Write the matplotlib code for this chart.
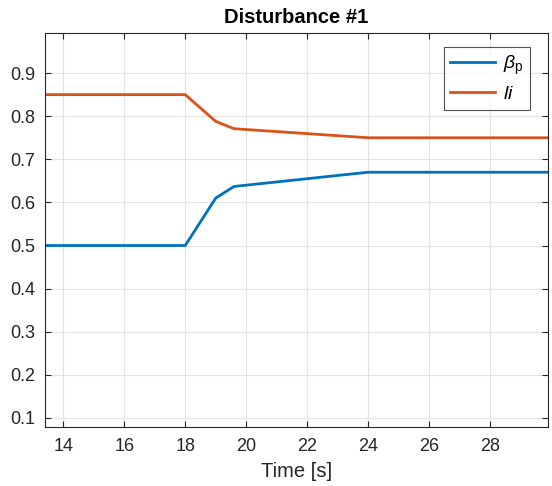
import matplotlib
matplotlib.use("Agg")
import matplotlib.pyplot as plt

# data
time = [13.4, 18.0, 19.0, 19.6, 24.0, 29.9]
beta_p = [0.5, 0.5, 0.61, 0.637, 0.67, 0.67]
li = [0.85, 0.85, 0.788, 0.771, 0.75, 0.75]

plt.rcParams['font.family'] = ['Liberation Sans', 'DejaVu Sans']
plt.rcParams['mathtext.fontset'] = 'custom'
plt.rcParams['mathtext.rm'] = 'Liberation Sans'
plt.rcParams['mathtext.it'] = 'Liberation Sans:italic'

fig = plt.figure(figsize=(5.52, 4.86), dpi=100)
ax = fig.add_axes([45 / 552, 59 / 486, 503 / 552, 394 / 486])

ax.plot(time, beta_p, color='#0072BD', lw=2, label=r'$\beta_{\rm p}$')
ax.plot(time, li, color='#D95319', lw=2, label=r'$li$')

ax.set_xlim(13.4, 29.9)
ax.set_ylim(0.079, 0.993)
ax.set_xticks(range(14, 30, 2))
ax.set_yticks([0.1, 0.2, 0.3, 0.4, 0.5, 0.6, 0.7, 0.8, 0.9])
ax.grid(True, color='#e3e3e3', lw=0.8)
ax.set_axisbelow(True)
ax.tick_params(direction='in', top=True, right=True, labelsize=13, colors='#262626', length=4)
ax.tick_params(axis='x', pad=8)
ax.tick_params(axis='y', pad=7)
for s in ax.spines.values():
    s.set_color('#262626')
    s.set_linewidth(0.8)

ax.set_xlabel('Time [s]', fontsize=14.5, color='#262626', labelpad=5)
ax.set_title('Disturbance #1', fontsize=14.5, fontweight='bold', pad=7)

leg = ax.legend(loc='upper right', fontsize=14, fancybox=False, edgecolor='#262626',
                handlelength=2.3, handletextpad=0.4, borderpad=0.35, labelspacing=0.45,
                borderaxespad=0, bbox_to_anchor=(0.965, 0.965))
leg.get_frame().set_linewidth(0.8)

fig.savefig('out.png', dpi=100)
